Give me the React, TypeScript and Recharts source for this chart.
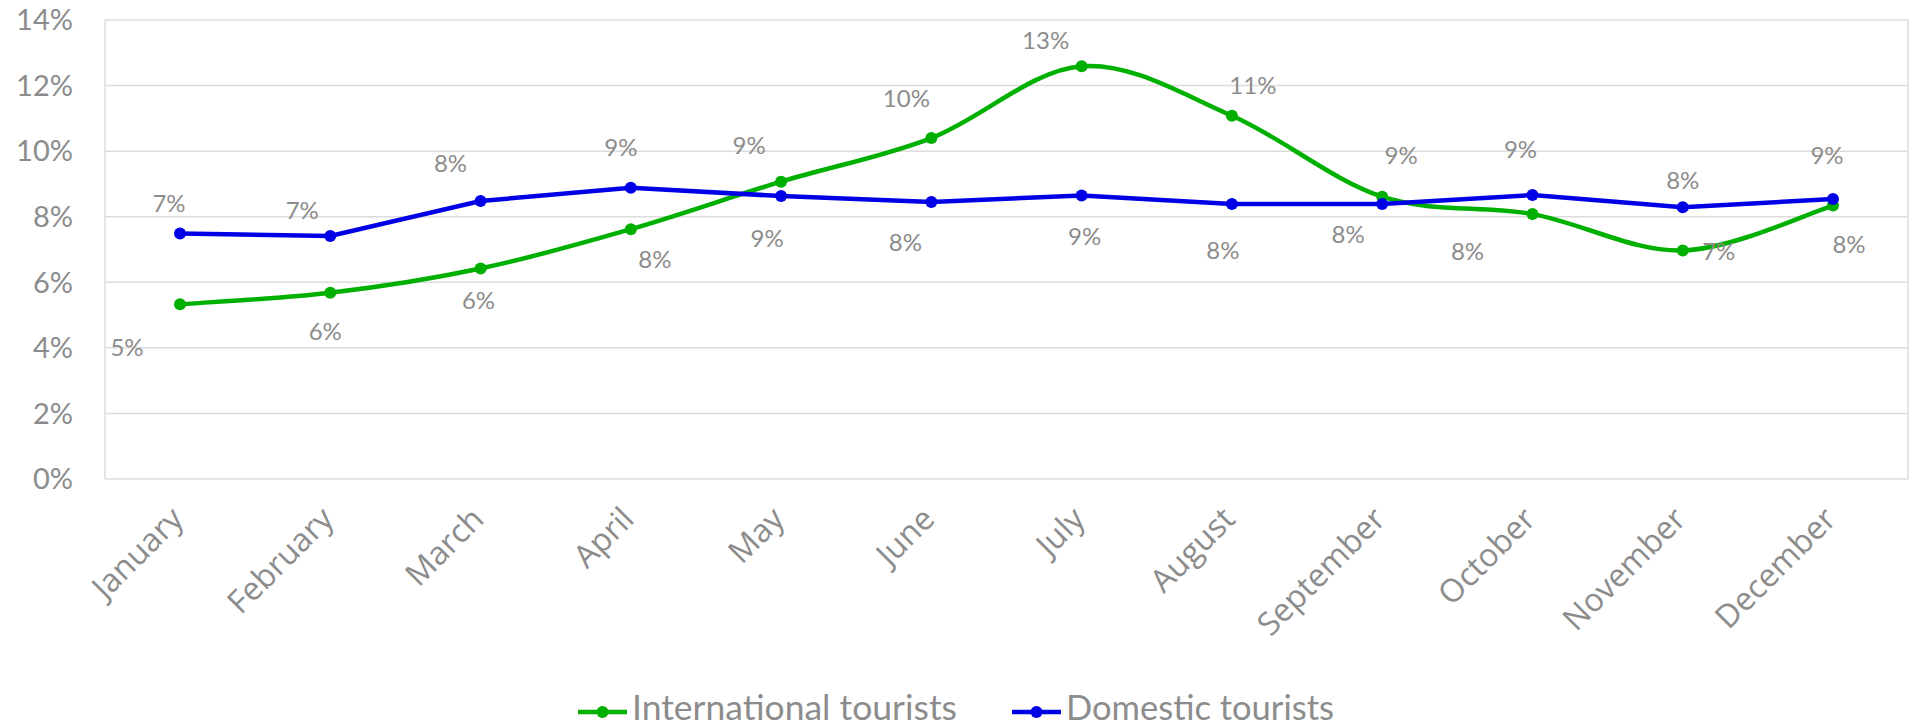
import React from "react";
import {
  LineChart,
  Line,
  XAxis,
  YAxis,
  CartesianGrid,
  LabelList,
  Legend,
} from "recharts";

// Monthly share of tourists (%)
const months = [
  "January", "February", "March", "April", "May", "June",
  "July", "August", "September", "October", "November", "December",
];
const international = [5.33, 5.68, 6.42, 7.62, 9.07, 10.4, 12.59, 11.08, 8.61, 8.08, 6.97, 8.34];
const domestic = [7.49, 7.41, 8.48, 8.88, 8.63, 8.45, 8.65, 8.39, 8.39, 8.66, 8.29, 8.54];
const yTicks = [0, 2, 4, 6, 8, 10, 12, 14];

const seriesNames = ["International tourists", "Domestic tourists"];

// label placement around each point (style only, like Excel's manual label positions)
const intlLabelOffset = [
  [-53, 42], [-5, 38], [-2, 31], [24, 29], [-32, -37], [-25, -41],
  [-36, -27], [21, -31], [19, -42], [-65, 36], [36, 0], [16, 38],
];
const domLabelOffset = [
  [-11, -31], [-28, -27], [-30, -38], [-10, -41], [-14, 41], [-26, 40],
  [3, 40], [-9, 46], [-34, 30], [-12, -47], [0, -28], [-6, -45],
];

const data = months.map((m, i) => ({
  month: m,
  intl: international[i],
  dom: domestic[i],
}));

const GREEN = "#00b000";
const BLUE = "#0000e6";
const GREY = "#8c8c8c";
const LABEL_FONT = "Lato, 'Noto Sans', sans-serif";

// Excel-like smoothed line (Catmull-Rom through the points)
const smoothCurve = (context: any) => {
  let pts: number[][] = [];
  return {
    areaStart() {},
    areaEnd() {},
    lineStart() {
      pts = [];
    },
    lineEnd() {
      if (!pts.length) return;
      context.moveTo(pts[0][0], pts[0][1]);
      for (let i = 0; i < pts.length - 1; i++) {
        const p0 = pts[Math.max(0, i - 1)];
        const p1 = pts[i];
        const p2 = pts[i + 1];
        const p3 = pts[Math.min(pts.length - 1, i + 2)];
        context.bezierCurveTo(
          p1[0] + (p2[0] - p0[0]) / 6,
          p1[1] + (p2[1] - p0[1]) / 6,
          p2[0] - (p3[0] - p1[0]) / 6,
          p2[1] - (p3[1] - p1[1]) / 6,
          p2[0],
          p2[1]
        );
      }
    },
    point(x: number, y: number) {
      pts.push([+x, +y]);
    },
  };
};

const makeLabel = (offsets: number[][]) => (props: any) => {
  const { x, y, value, index } = props;
  const [dx, dy] = offsets[index] || [0, -30];
  return (
    <text
      x={x + dx}
      y={y + dy}
      textAnchor="middle"
      dominantBaseline="central"
      fill={GREY}
      fontSize={24}
      fontFamily={LABEL_FONT}
    >
      {`${Math.round(value)}%`}
    </text>
  );
};

const MonthTick = (props: any) => {
  const { x, y, payload } = props;
  const ax = x + 5;
  const ay = y + 42;
  return (
    <text
      x={ax}
      y={ay}
      transform={`rotate(-45, ${ax}, ${ay})`}
      textAnchor="end"
      fill={GREY}
      fontSize={32}
      fontFamily="'Open Sans', sans-serif"
    >
      {payload.value}
    </text>
  );
};

const LegendContent = () => {
  const items = [
    { name: seriesNames[0], color: GREEN, x: 578, len: 325 },
    { name: seriesNames[1], color: BLUE, x: 1012, len: 268 },
  ];
  return (
    <svg width={1910} height={54} style={{ display: "block", overflow: "visible" }}>
      {items.map((it) => (
        <g key={it.name}>
          <line x1={it.x} x2={it.x + 49} y1={38} y2={38} stroke={it.color} strokeWidth={4.5} />
          <circle cx={it.x + 24.5} cy={38} r={6} fill={it.color} />
          <text
            x={it.x + 54}
            y={46}
            fill={GREY}
            fontSize={35}
            fontFamily={LABEL_FONT}
            textLength={it.len}
            lengthAdjust="spacingAndGlyphs"
          >
            {it.name}
          </text>
        </g>
      ))}
    </svg>
  );
};

const App: React.FC = () => {
  return (
    <div style={{ position: "absolute", left: 0, top: 0, background: "#fff" }}>
      <LineChart
        width={1910}
        height={728}
        data={data}
        margin={{ top: 20, right: 2, left: 0, bottom: 0 }}
      >
        <CartesianGrid
          stroke="#dcdcdc"
          strokeWidth={1.5}
          verticalCoordinatesGenerator={({ offset }: any) => [
            offset.left,
            offset.left + offset.width,
          ]}
        />
        <XAxis
          dataKey="month"
          axisLine={false}
          tickLine={false}
          tickSize={0}
          tickMargin={0}
          height={195}
          interval={0}
          padding={{ left: 75, right: 75 }}
          tick={<MonthTick />}
        />
        <YAxis
          domain={[0, 14]}
          ticks={yTicks}
          width={105}
          axisLine={false}
          tickLine={false}
          tickSize={0}
          tickMargin={32}
          tickFormatter={(v: number) => `${v}%`}
          tick={{ fill: GREY, fontSize: 29, fontFamily: LABEL_FONT }}
        />
        <Line
          dataKey="intl"
          name={seriesNames[0]}
          type={smoothCurve as any}
          stroke={GREEN}
          strokeWidth={4.5}
          dot={{ r: 6, fill: GREEN, stroke: GREEN, strokeWidth: 0 }}
          isAnimationActive={false}
        >
          <LabelList dataKey="intl" content={makeLabel(intlLabelOffset)} />
        </Line>
        <Line
          dataKey="dom"
          name={seriesNames[1]}
          type="linear"
          stroke={BLUE}
          strokeWidth={4.5}
          dot={{ r: 6, fill: BLUE, stroke: BLUE, strokeWidth: 0 }}
          isAnimationActive={false}
        >
          <LabelList dataKey="dom" content={makeLabel(domLabelOffset)} />
        </Line>
        <Legend
          verticalAlign="bottom"
          content={<LegendContent />}
          wrapperStyle={{ left: 0, width: 1910, height: 54, bottom: 0 }}
        />
      </LineChart>
    </div>
  );
};

export default App;
